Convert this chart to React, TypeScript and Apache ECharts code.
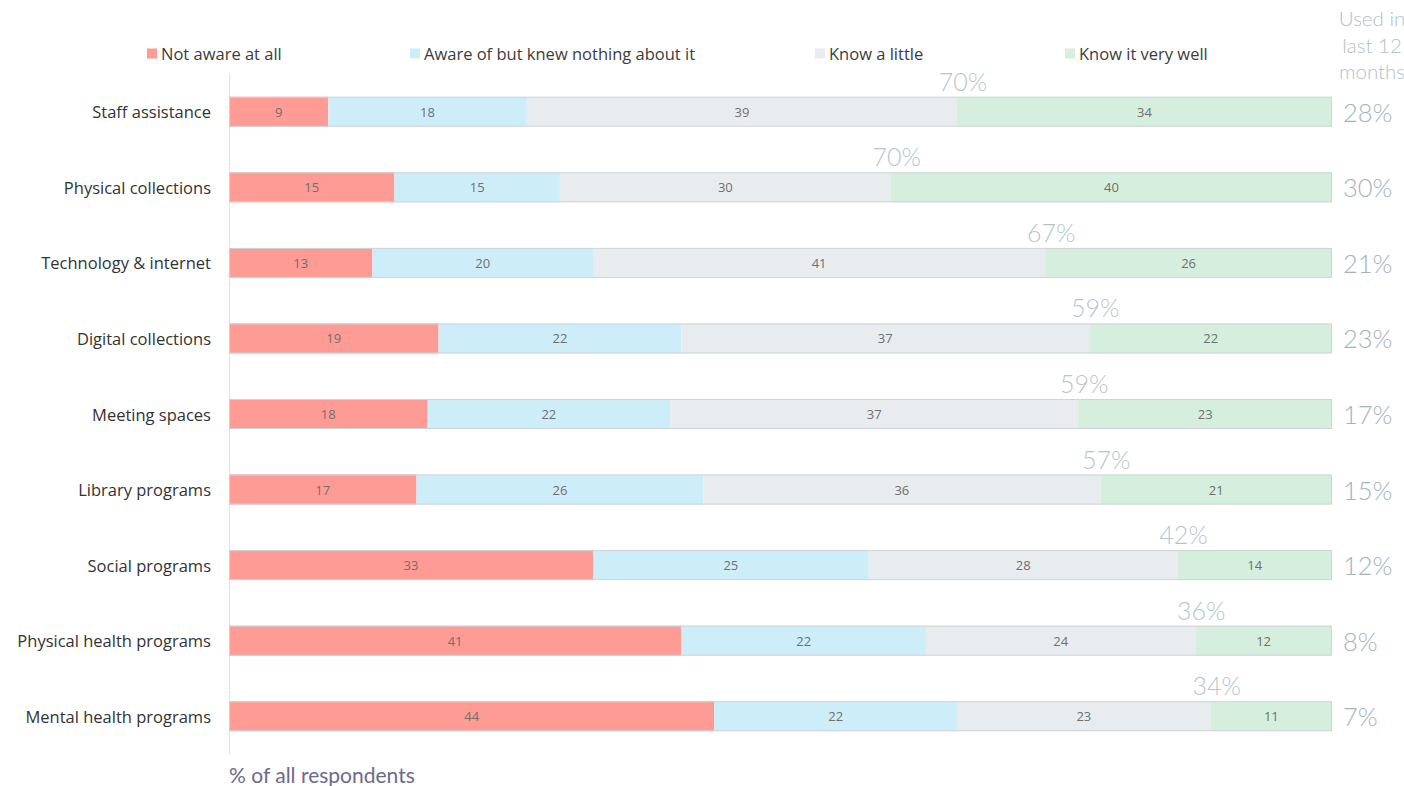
import React, { useEffect, useRef } from "react";
import * as echarts from "echarts";

const categories = [
  "Staff assistance",
  "Physical collections",
  "Technology & internet",
  "Digital collections",
  "Meeting spaces",
  "Library programs",
  "Social programs",
  "Physical health programs",
  "Mental health programs",
];
const seriesNames = [
  "Not aware at all",
  "Aware of but knew nothing about it",
  "Know a little",
  "Know it very well",
];
const notAware = [9, 15, 13, 19, 18, 17, 33, 41, 44];
const awareNothing = [18, 15, 20, 22, 22, 26, 25, 22.2, 22];
const knowLittle = [39, 30, 41, 37, 37, 36, 28, 24.4, 23];
const knowWell = [34, 40, 26, 22, 23, 21, 14, 12.4, 11];
const awareTotal = ["70%", "70%", "67%", "59%", "59%", "57%", "42%", "36%", "34%"];
const usedLast12 = ["28%", "30%", "21%", "23%", "17%", "15%", "12%", "8%", "7%"];

const colors = ["#FE9B95", "#CDEEF9", "#E8ECEF", "#D6EEDD"];
const FONT = "Lato, 'Open Sans', sans-serif";
const FONT2 = "'Open Sans', Lato, sans-serif";

export default function App() {
  const ref = useRef<HTMLDivElement>(null);
  useEffect(() => {
    if (!ref.current) return;
    const chart = echarts.init(ref.current, undefined, { renderer: "svg" });
    const values = [notAware, awareNothing, knowLittle, knowWell];
    const legendLefts = [147, 410, 815, 1065];
    const barSeries: any[] = values.map((arr, i) => ({
      name: seriesNames[i],
      type: "bar",
      stack: "total",
      barWidth: 30,
      data: arr,
      itemStyle: { color: colors[i] },
      label: {
        show: true,
        position: "inside",
        color: "#6f6f6f",
        fontSize: 13,
        fontFamily: FONT2,
        formatter: (p: any) => String(Math.round(p.value)),
      },
    }));
    const frame = {
      type: "bar",
      barWidth: 30,
      barGap: "-100%",
      data: categories.map(() => 100),
      silent: true,
      z: 5,
      itemStyle: { color: "rgba(0,0,0,0)", borderColor: "#cfd4d8", borderWidth: 1 },
    };
    const tops = {
      type: "scatter",
      symbolSize: 1,
      itemStyle: { color: "rgba(0,0,0,0)" },
      data: categories.map((c, i) => [notAware[i] + awareNothing[i] + knowLittle[i], c]),
      label: {
        show: true,
        position: "top",
        distance: 18,
        offset: [6, 0],
        color: "#a3b3bc",
        fontSize: 25,
        fontWeight: 300,
        fontFamily: FONT,
        formatter: (p: any) => awareTotal[p.dataIndex],
      },
      z: 6,
    };
    chart.setOption({
      animation: false,
      textStyle: { fontFamily: FONT },
      legend: seriesNames.map((n, i) => ({
        data: [n],
        left: legendLefts[i],
        top: 45,
        padding: 0,
        itemWidth: 10,
        itemHeight: 10,
        itemGap: 4,
        icon: "rect",
        textStyle: { fontSize: 16.5, color: "#3c3c3c", fontFamily: FONT2, padding: [0, 0, 0, -1] },
        selectedMode: false,
      })),
      title: [
        {
          text: "Used in\nlast 12\nmonths",
          left: 1367,
          top: 0,
          textAlign: "center",
          textStyle: { fontSize: 20.5, color: "#b0c1c9", fontWeight: 300, lineHeight: 26.5, fontFamily: FONT },
        },
        {
          text: "% of all respondents",
          left: 224,
          top: 759,
          textStyle: { fontSize: 21, color: "#6d6a8a", fontWeight: 400, fontFamily: FONT },
        },
      ],
      grid: { left: 229, right: 72, top: 74, bottom: 32, containLabel: false },
      xAxis: { type: "value", min: 0, max: 100, show: false },
      yAxis: [
        {
          type: "category",
          data: categories,
          inverse: true,
          axisLine: { show: true, lineStyle: { color: "#e3e3e3" } },
          axisTick: { show: false },
          axisLabel: { color: "#333333", fontSize: 16.5, margin: 18, fontFamily: FONT2 },
        },
        {
          type: "category",
          data: usedLast12,
          inverse: true,
          position: "right",
          axisLine: { show: false },
          axisTick: { show: false },
          axisLabel: { color: "#a3b3bc", fontSize: 25.5, fontWeight: 300, margin: 11, fontFamily: FONT },
        },
      ],
      series: [...barSeries, frame, tops],
    });
    return () => chart.dispose();
  }, []);
  return <div ref={ref} style={{ width: 1404, height: 786, position: "absolute", left: 0, top: 0 }} />;
}
